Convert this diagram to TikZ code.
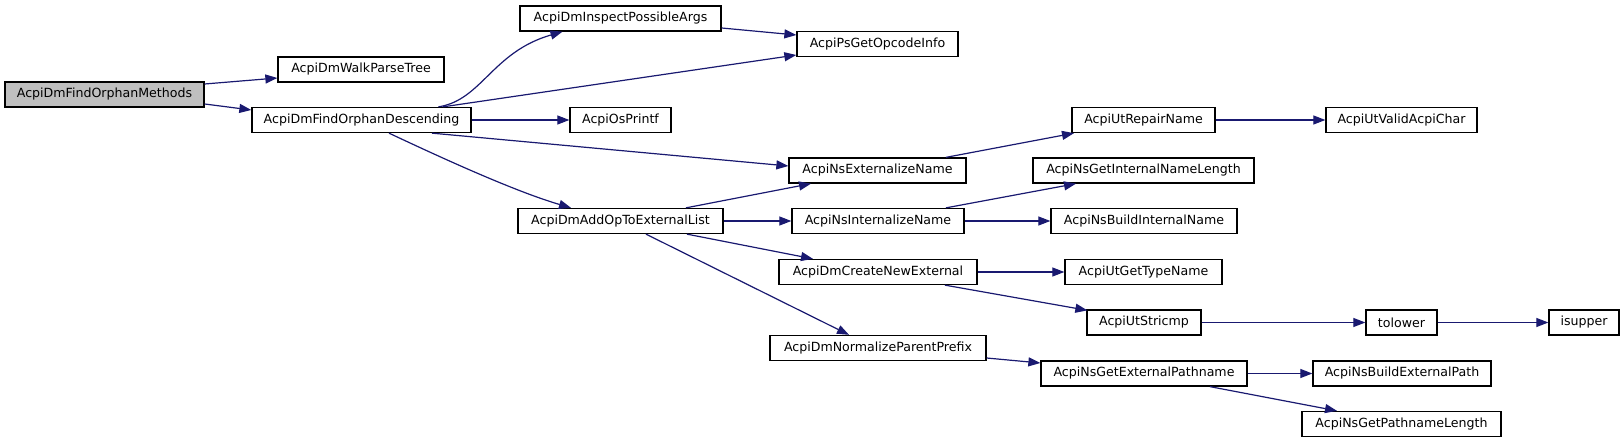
\documentclass[tikz,border=0pt]{standalone}
\usepackage{fontspec}
\setmainfont{DejaVu Sans}
\usetikzlibrary{arrows.meta}
\definecolor{edgeblue}{HTML}{191970}
\definecolor{rootgray}{HTML}{BFBFBF}
\begin{document}
\begin{tikzpicture}[x=1pt,y=1pt,
  fn/.style={draw=black, line width=1.3pt, fill=white, minimum height=25pt, inner sep=0pt, font=\fontsize{12.6}{15}\selectfont},
  root/.style={fn, fill=rootgray},
  call/.style={draw=edgeblue, line width=1.2pt, -{Triangle[length=12pt,width=9pt]}}
]
\useasboundingbox (0,0) rectangle (1624,-443);

\node[root, minimum width=199pt] (m)   at (104.5,-94.5) {AcpiDmFindOrphanMethods};
\node[fn, minimum width=166pt]   (wpt) at (361,-69.5)   {AcpiDmWalkParseTree};
\node[fn, minimum width=219pt]   (d)   at (361.5,-120)  {AcpiDmFindOrphanDescending};
\node[fn, minimum width=201pt]   (ipa) at (620.5,-18.5) {AcpiDmInspectPossibleArgs};
\node[fn, minimum width=161pt]   (op)  at (877.5,-44)   {AcpiPsGetOpcodeInfo};
\node[fn, minimum width=101pt]   (pr)  at (620.5,-120)  {AcpiOsPrintf};
\node[fn, minimum width=177pt]   (ext) at (877.5,-170.5){AcpiNsExternalizeName};
\node[fn, minimum width=143pt]   (rep) at (1143.5,-120) {AcpiUtRepairName};
\node[fn, minimum width=151pt]   (val) at (1401.5,-120) {AcpiUtValidAcpiChar};
\node[fn, minimum width=221pt]   (gil) at (1143.5,-170.5){AcpiNsGetInternalNameLength};
\node[fn, minimum width=205pt]   (add) at (620.5,-221)  {AcpiDmAddOpToExternalList};
\node[fn, minimum width=172pt]   (int) at (878,-221)    {AcpiNsInternalizeName};
\node[fn, minimum width=186pt]   (bin) at (1144,-221)   {AcpiNsBuildInternalName};
\node[fn, minimum width=198pt]   (cne) at (878,-272)    {AcpiDmCreateNewExternal};
\node[fn, minimum width=157pt]   (gtn) at (1143.5,-272) {AcpiUtGetTypeName};
\node[fn, minimum width=114pt]   (str) at (1144,-322.5) {AcpiUtStricmp};
\node[fn, minimum width=71pt]    (tl)  at (1401.5,-322.5){tolower};
\node[fn, minimum width=70pt]    (up)  at (1584,-322.5) {isupper};
\node[fn, minimum width=216pt]   (npp) at (878,-348)    {AcpiDmNormalizeParentPrefix};
\node[fn, minimum width=206pt]   (gep) at (1144,-373.5) {AcpiNsGetExternalPathname};
\node[fn, minimum width=178pt]   (bep) at (1402,-373.5) {AcpiNsBuildExternalPath};
\node[fn, minimum width=199pt]   (gpl) at (1401.5,-424) {AcpiNsGetPathnameLength};

\draw[call] ([yshift=10.5pt]m.east) -- ([yshift=-8.5pt]wpt.west);
\draw[call] ([yshift=-9.5pt]m.east) -- ([yshift=10pt]d.west);
\draw[call] ([xshift=77pt]d.north) .. controls (482,-100) and (492,-52) .. ([xshift=-58pt]ipa.south);
\draw[call] ([xshift=81.5pt]d.north) -- ([yshift=-11pt]op.west);
\draw[call] ([yshift=-9.5pt]ipa.east) -- ([yshift=9pt]op.west);
\draw[call] (d.east) -- (pr.west);
\draw[call] ([xshift=70.5pt]d.south) -- ([yshift=4.5pt]ext.west);
\draw[call] ([xshift=27.5pt]d.south) .. controls (425,-150) and (510,-190) .. ([xshift=-49.5pt]add.north);
\draw[call] ([xshift=65.5pt]add.north) -- ([xshift=-66.5pt]ext.south);
\draw[call] (add.east) -- (int.west);
\draw[call] ([xshift=66.5pt]add.south) -- ([xshift=-65pt]cne.north);
\draw[call] ([xshift=25.5pt]add.south) -- ([xshift=-29pt]npp.north);
\draw[call] ([xshift=68.5pt]ext.north) -- ([xshift=-69.5pt]rep.south);
\draw[call] (rep.east) -- (val.west);
\draw[call] ([xshift=68pt]int.north) -- ([xshift=-67.5pt]gil.south);
\draw[call] (int.east) -- (bin.west);
\draw[call] (cne.east) -- (gtn.west);
\draw[call] ([xshift=67pt]cne.south) -- ([xshift=1pt,yshift=-1pt]str.north west);
\draw[call] (str.east) -- (tl.west);
\draw[call] (tl.east) -- (up.west);
\draw[call] ([yshift=-10pt]npp.east) -- ([yshift=10.5pt]gep.west);
\draw[call] (gep.east) -- (bep.west);
\draw[call] ([xshift=66pt]gep.south) -- ([xshift=-64.5pt]gpl.north);
\end{tikzpicture}
\end{document}
